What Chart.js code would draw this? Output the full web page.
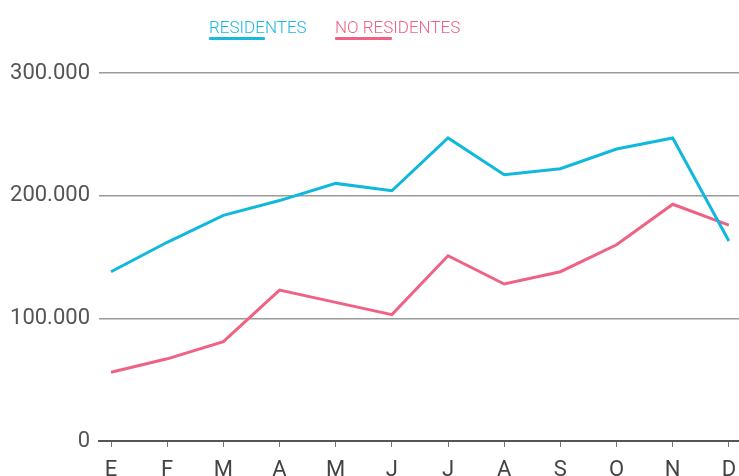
<!DOCTYPE html>
<html>
<head>
<meta charset="utf-8">
<script src="https://cdn.jsdelivr.net/npm/chart.js@4/dist/chart.umd.min.js"></script>
<style>
  html, body { margin: 0; padding: 0; background: #fff; overflow: hidden; width: 739px; height: 476px; }
  #wrap { position: relative; width: 739px; height: 494px; }
  #legend { position: absolute; top: 0; left: 0; width: 739px; height: 50px; font-family: Roboto, sans-serif; font-size: 17px; font-weight: 300; }
  .item { position: absolute; top: 17px; line-height: 20px; white-space: nowrap; }
  .bar { position: absolute; top: 20px; height: 3px; border-radius: 1px; }
</style>
</head>
<body>
<div id="wrap">
  <canvas id="c" width="739" height="494"></canvas>
  <div id="legend">
    <div class="item" style="left:209px;color:#19b9dc;">RESIDENTES<div class="bar" style="left:0;width:56px;background:#19b9dc;"></div></div>
    <div class="item" style="left:335px;color:#ef6283;">NO RESIDENTES<div class="bar" style="left:0;width:57px;background:#ef6283;"></div></div>
  </div>
</div>
<script>
const months = ["E", "F", "M", "A", "M", "J", "J", "A", "S", "O", "N", "D"];
const residentes = [138000, 162000, 184000, 196000, 210000, 204000, 247000, 217000, 222000, 238000, 247000, 163000];
const noResidentes = [56000, 67000, 81000, 123000, 113000, 103000, 151000, 128000, 138000, 160000, 193000, 176000];
const yTicks = [0, 100000, 200000, 300000];

const toPts = arr => arr.map((v, i) => ({ x: i, y: v }));
const fmt = v => String(v).replace(/\B(?=(\d{3})+(?!\d))/g, ".");

new Chart(document.getElementById("c"), {
  type: "line",
  data: {
    datasets: [
      { label: "RESIDENTES", data: toPts(residentes), borderColor: "#0fb8dc", borderWidth: 3, pointRadius: 0, tension: 0, fill: false },
      { label: "NO RESIDENTES", data: toPts(noResidentes), borderColor: "#ef6283", borderWidth: 3, pointRadius: 0, tension: 0, fill: false }
    ]
  },
  options: {
    responsive: false,
    animation: false,
    events: [],
    layout: { padding: { top: 73, right: 0, left: 0, bottom: 0 } },
    plugins: { legend: { display: false }, tooltip: { enabled: false } },
    scales: {
      x: {
        type: "linear",
        min: -0.214,
        max: 11.18,
        afterBuildTicks: s => { s.ticks = months.map((_, i) => ({ value: i })); },
        afterFit: s => { s.height = 53; s.paddingLeft = 0; s.paddingRight = 0; },
        border: { display: true, color: "#555", width: 2 },
        grid: { drawOnChartArea: false, drawTicks: true, tickLength: 6, color: "#777", lineWidth: 1 },
        ticks: {
          autoSkip: false,
          maxRotation: 0,
          padding: 10,
          color: "#444",
          font: { family: "Roboto", size: 22 },
          callback: v => months[v]
        }
      },
      y: {
        min: 0,
        max: 300000,
        afterBuildTicks: s => { s.ticks = yTicks.map(v => ({ value: v })); },
        afterFit: s => { s.width = 99; },
        border: { display: false },
        grid: { drawTicks: false, color: "#9a9a9a", lineWidth: 1.5 },
        ticks: {
          padding: 9,
          color: "#555",
          font: { family: "Roboto", size: 22 },
          callback: v => fmt(v)
        }
      }
    }
  }
});
</script>
</body>
</html>
